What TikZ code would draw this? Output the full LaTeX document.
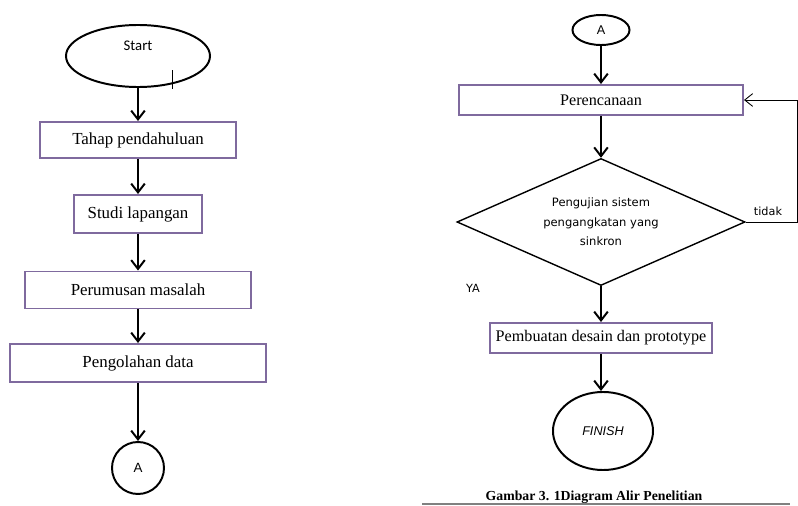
\documentclass[tikz,border=0pt]{standalone}
\usepackage{fontspec}
\setmainfont{Liberation Serif}
\newfontfamily\calibrifont{Carlito}
\newfontfamily\arialfont{Liberation Sans}
\newfontfamily\verdanafont{DejaVu Sans}
\usetikzlibrary{positioning,arrows.meta,shapes.geometric}
\definecolor{boxline}{HTML}{7F6A9E}

\begin{document}
\begin{tikzpicture}[x=0.025cm, y=-0.025cm,
  proc/.style={draw=boxline, line width=1.4pt, fill=white, inner sep=0pt, align=center, font=\fontsize{12}{14}\selectfont},
  term/.style={draw, ellipse, line width=1.4pt, inner sep=0pt, align=center},
  dec/.style={draw, diamond, line width=1pt, inner sep=0pt, aspect=2.27, align=center, font=\verdanafont\fontsize{8.2}{14}\selectfont},
  arr/.style={-{Straight Barb[length=2.2mm, width=3.4mm]}, line width=1.4pt},
  back/.style={-{Straight Barb[length=2mm, width=3.2mm]}, line width=0.6pt},
  lbl/.style={font=\verdanafont\fontsize{8}{9}\selectfont}
]
  \useasboundingbox (0,0) rectangle (798,506);
  % left column
  \node[term, minimum width=3.6cm, minimum height=1.55cm, font=\calibrifont\fontsize{10.5}{12}\selectfont] (start) at (138,56) {Start\\[3pt]};
  \node[proc, minimum width=4.9cm, minimum height=0.9cm] (tahap) at (138,140) {Tahap pendahuluan};
  \node[proc, minimum width=3.2cm, minimum height=0.95cm] (studi) at (138,214) {Studi lapangan};
  \node[proc, minimum width=5.625cm, minimum height=0.925cm] (rumus) at (138,290) {Perumusan masalah};
  \node[proc, minimum width=6.375cm, minimum height=0.95cm] (olah) at (138,363) {Pengolahan data};
  \node[circle, draw, line width=1.4pt, minimum size=1.3cm, inner sep=0pt, font=\arialfont\fontsize{9.5}{11}\selectfont] (conA) at (138,468) {A};
  \draw (172,70) -- (172,89);
  \draw[arr] (start) -- (tahap);
  \draw[arr] (tahap) -- (studi);
  \draw[arr] (studi) -- (rumus);
  \draw[arr] (rumus) -- (olah);
  \draw[arr] (olah) -- (conA);
  % right column
  \node[term, minimum width=1.425cm, minimum height=0.75cm, font=\arialfont\fontsize{9}{10}\selectfont] (conB) at (601,30) {A};
  \node[proc, minimum width=7.1cm, minimum height=0.75cm, font=\fontsize{11.5}{13}\selectfont] (plan) at (601,100) {Perencanaan};
  \node[dec, minimum width=7.2cm, minimum height=3.175cm] (uji) at (601,222) {Pengujian sistem\\pengangkatan yang\\sinkron};
  \node[proc, minimum width=5.525cm, minimum height=0.75cm, font=\fontsize{11.5}{13}\selectfont] (buat) at (601,338) {Pembuatan desain dan prototype};
  \node[term, minimum width=2.5cm, minimum height=1.95cm, font=\arialfont\itshape\fontsize{9}{10}\selectfont] (finish) at (603,431) {FINISH};
  \coordinate (fb) at (797,222);
  \draw[arr] (conB) -- (plan);
  \draw[arr] (plan) -- (uji);
  \draw[arr] (uji) -- (buat);
  \draw[arr] (buat.south) -- (buat.south |- finish.north);
  \draw[back] (uji.east) -- (fb) |- (plan.east);
  \node[lbl] (tdk) at (768,211) {tidak};
  \node[lbl] (ya) at (473,288) {YA};
  \node[font=\bfseries\fontsize{9.8}{11}\selectfont] (cap) at (594,497) {Gambar 3. 1Diagram Alir Penelitian};
  \draw[gray, line width=0.8pt] (422,504) -- (790,504);
\end{tikzpicture}
\end{document}
